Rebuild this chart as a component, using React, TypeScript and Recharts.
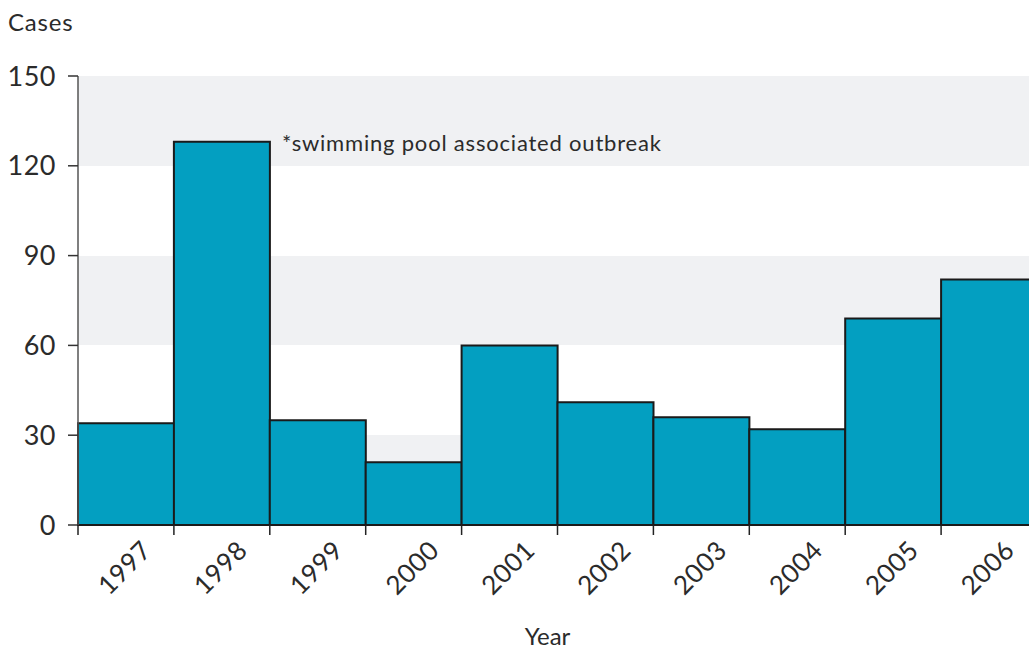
import { BarChart, Bar, XAxis, YAxis, CartesianGrid, LabelList } from 'recharts'

const years = ['1997', '1998', '1999', '2000', '2001', '2002', '2003', '2004', '2005', '2006']
const cases = [34, 128, 35, 21, 60, 41, 36, 32, 69, 82]
const yTicks = [0, 30, 60, 90, 120, 150]
const note = '*swimming pool associated outbreak'
const noteIndex = 1

const data = years.map((year, i) => ({ year, cases: cases[i] }))

const FONT = 'Lato, "Noto Sans", sans-serif'
const TEXT = '#2b2b2b'

const W = 1029
const H = 653
// the last bar runs past the right edge of the picture
const CHART_W = 1037

function YearTick(props: any) {
    const { x, y, payload, width } = props
    const bw = width / years.length
    return (
        <g>
            <line x1={x - bw / 2} x2={x - bw / 2} y1={y - 10} y2={y} stroke="#222" strokeWidth={1.5} />
            <text
                x={x + 20}
                y={y + 10}
                textAnchor="end"
                dominantBaseline="central"
                transform={`rotate(-45, ${x + 20}, ${y + 10})`}
                fill={TEXT}
                fontSize={26}
                letterSpacing={0.5}
                fontFamily={FONT}
            >
                {payload.value}
            </text>
        </g>
    )
}

function NoteLabel(props: any) {
    const { x, y, width, index } = props
    if (index !== noteIndex) return null
    return (
        <text x={x + width + 12} y={y + 9} fill={TEXT} fontSize={22} letterSpacing={0.8} fontFamily={FONT}>
            {note}
        </text>
    )
}

function App() {
    return (
        <div style={{ position: 'absolute', left: 0, top: 0, width: W, height: H, overflow: 'hidden', background: '#fff' }}>
            <BarChart
                width={CHART_W}
                height={H}
                data={data}
                margin={{ top: 76, right: 0, bottom: 0, left: 0 }}
                barCategoryGap={0}
            >
                <CartesianGrid
                    vertical={false}
                    stroke="transparent"
                    horizontalFill={['#f0f1f3', '#ffffff']}
                    fillOpacity={1}
                />
                <XAxis
                    dataKey="year"
                    height={128}
                    tickLine={false}
                    tickSize={10}
                    tickMargin={0}
                    axisLine={{ stroke: '#1a1a1a', strokeWidth: 2 }}
                    tick={<YearTick />}
                    interval={0}
                    label={{
                        content: (p: any) => (
                            <text
                                x={p.viewBox.x + p.viewBox.width / 2 - 10}
                                y={p.viewBox.y + 120}
                                textAnchor="middle"
                                fill={TEXT}
                                fontSize={24}
                                fontFamily={FONT}
                            >
                                Year
                            </text>
                        ),
                    }}
                />
                <YAxis
                    width={78}
                    domain={[0, 150]}
                    ticks={yTicks}
                    interval={0}
                    tickSize={10}
                    tickMargin={12}
                    axisLine={{ stroke: '#555', strokeWidth: 1.5 }}
                    tickLine={{ stroke: '#333', strokeWidth: 1.5 }}
                    tick={{ fill: TEXT, fontSize: 27, fontFamily: FONT, letterSpacing: 0.5 }}
                    label={{
                        content: (p: any) => (
                            <text x={8} y={p.viewBox.y - 45} fill={TEXT} fontSize={24} letterSpacing={0.8} fontFamily={FONT}>
                                Cases
                            </text>
                        ),
                    }}
                />
                <Bar dataKey="cases" fill="#039fc1" stroke="#1a1a1a" strokeWidth={2} isAnimationActive={false}>
                    <LabelList dataKey="cases" content={<NoteLabel />} />
                </Bar>
            </BarChart>
        </div>
    )
}

export default App
